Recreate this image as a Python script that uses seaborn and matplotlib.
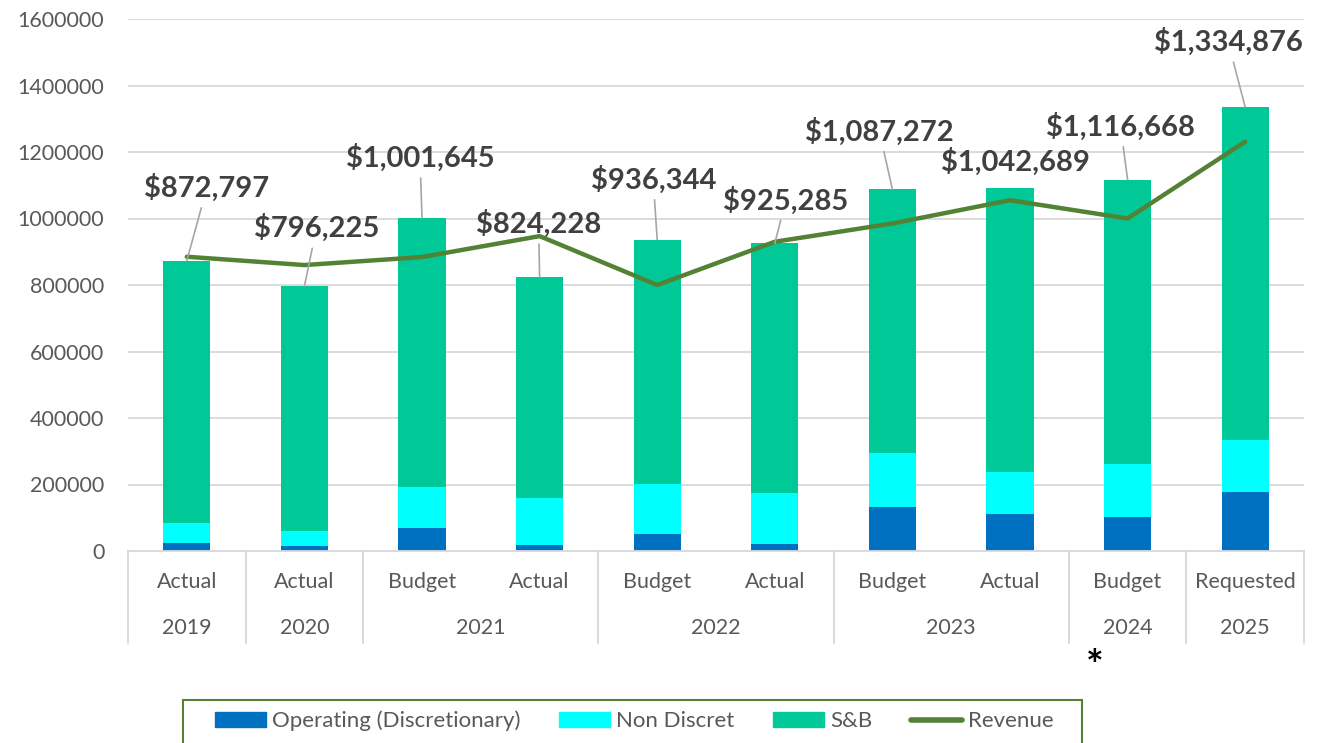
import numpy as np
import pandas as pd
import matplotlib
matplotlib.use("Agg")
import matplotlib.pyplot as plt
import matplotlib.transforms as mtransforms
from matplotlib.patches import Rectangle, Patch
from matplotlib.lines import Line2D
import seaborn as sns

# --- data ---
kinds = ["Actual", "Actual", "Budget", "Actual", "Budget", "Actual",
         "Budget", "Actual", "Budget", "Requested"]
years = ["2019", "2020", "2021", "2021", "2022", "2022", "2023", "2023", "2024", "2025"]
operating = [25000, 15000, 69000, 18000, 50000, 21000, 133000, 111000, 103000, 178000]
non_discret = [59000, 46000, 124000, 142000, 153000, 153000, 161000, 126000, 158000, 156000]
s_and_b = [788797, 735225, 808645, 664228, 733344, 751285, 793272, 856000, 855668, 1000876]
revenue = [885000, 860000, 884000, 947000, 800000, 930000, 985000, 1055000, 1000000, 1231000]
total_labels = ["$872,797", "$796,225", "$1,001,645", "$824,228", "$936,344",
                "$925,285", "$1,087,272", "$1,042,689", "$1,116,668", "$1,334,876"]

# label offsets from bar top, in pixels (dx, dy)
label_offsets = [(20, 73), (12, 58), (-2, 60), (-1, 53), (-4, 60),
                 (11, 43), (-13, 58), (5, 26), (-7, 53), (-17, 65)]

C_OP = "#0070C0"
C_ND = "#00FFFF"
C_SB = "#00C896"
C_REV = "#548235"
GRAY = "#595959"

sns.set_style("white")
plt.rcParams["font.family"] = ["Lato", "DejaVu Sans"]

df = pd.DataFrame({"pos": np.arange(len(kinds)), "op": operating,
                   "nd": non_discret, "sb": s_and_b, "rev": revenue})
df["lvl2"] = df["op"] + df["nd"]
df["total"] = df["lvl2"] + df["sb"]

fig = plt.figure(figsize=(13.27, 7.43), dpi=100)
ax = fig.add_axes([128 / 1327, 1 - 551 / 743, (1304 - 128) / 1327, (551 - 19) / 743])

for col, c in [("total", C_SB), ("lvl2", C_ND), ("op", C_OP)]:
    sns.barplot(data=df, x="pos", y=col, color=c, width=0.4, errorbar=None,
                saturation=1, linewidth=0, ax=ax, zorder=2)
sns.lineplot(x=df["pos"].values, y=df["rev"].values, color=C_REV, lw=3.2,
             sort=False, ax=ax, zorder=3)

ax.set_xlim(-0.5, len(kinds) - 0.5)
ax.set_ylim(0, 1600000)
ax.set_yticks(np.arange(0, 1600001, 200000))
ax.set_yticklabels([str(v) for v in range(0, 1600001, 200000)])
ax.tick_params(axis="y", length=0, pad=17, labelsize=15.5, labelcolor=GRAY)
ax.set_xticks([])
ax.set_xlabel("")
ax.set_ylabel("")
ax.yaxis.grid(True, color="#D9D9D9", lw=1.3)
ax.set_axisbelow(True)
for s in ["left", "top", "right"]:
    ax.spines[s].set_visible(False)
ax.spines["bottom"].set_color("#D9D9D9")
ax.spines["bottom"].set_linewidth(1.3)

# total labels with leader lines
for i, (lab, (dx, dy)) in enumerate(zip(total_labels, label_offsets)):
    arrow = dict(arrowstyle="-", color="#A6A6A6", lw=1.2, shrinkA=2, shrinkB=0) if dy > 35 else None
    ax.annotate(lab, xy=(i, df["total"][i]), xytext=(dx, dy), textcoords="offset pixels",
                ha="center", va="center", fontsize=21, fontweight="bold", color="#404040",
                arrowprops=arrow, zorder=5)

# two-level category axis
trans = mtransforms.blended_transform_factory(ax.transData, ax.transAxes)
for i, k in enumerate(kinds):
    ax.text(i, -31 / 532, k, transform=trans, ha="center", va="center",
            fontsize=15.5, color=GRAY)
groups = []
for i, y in enumerate(years):
    if groups and groups[-1][0] == y:
        groups[-1][2] = i
    else:
        groups.append([y, i, i])
for y, a, b in groups:
    ax.text((a + b) / 2, -77 / 532, y, transform=trans, ha="center", va="center",
            fontsize=15.5, color=GRAY)
    for xb in (a - 0.5, b + 0.5):
        ax.plot([xb, xb], [0, -92 / 532], transform=trans, color="#D9D9D9",
                lw=1.3, clip_on=False)

# asterisk under 2024
fig.text(1095 / 1327, 1 - 668 / 743, "*", fontsize=30, fontweight="bold",
         ha="center", va="center", color="black")

# legend in a green box, cut off at the bottom
fig.patches.append(Rectangle((183 / 1327, -0.1), (1082 - 183) / 1327, 0.1 + (743 - 700) / 743,
                             transform=fig.transFigure, fill=False,
                             edgecolor=C_REV, lw=1.5))
handles = [Patch(color=C_OP, label="Operating (Discretionary)"),
           Patch(color=C_ND, label="Non Discret"),
           Patch(color=C_SB, label="S&B"),
           Line2D([0], [0], color=C_REV, lw=4, label="Revenue")]
leg = fig.legend(handles=handles, loc="center", bbox_to_anchor=(0.478, 1 - 721 / 743),
                 ncol=4, frameon=False, fontsize=16, handlelength=2.3, handleheight=0.7,
                 handletextpad=0.25, columnspacing=1.75)
for t in leg.get_texts():
    t.set_color(GRAY)

fig.savefig("out.png", dpi=100)
